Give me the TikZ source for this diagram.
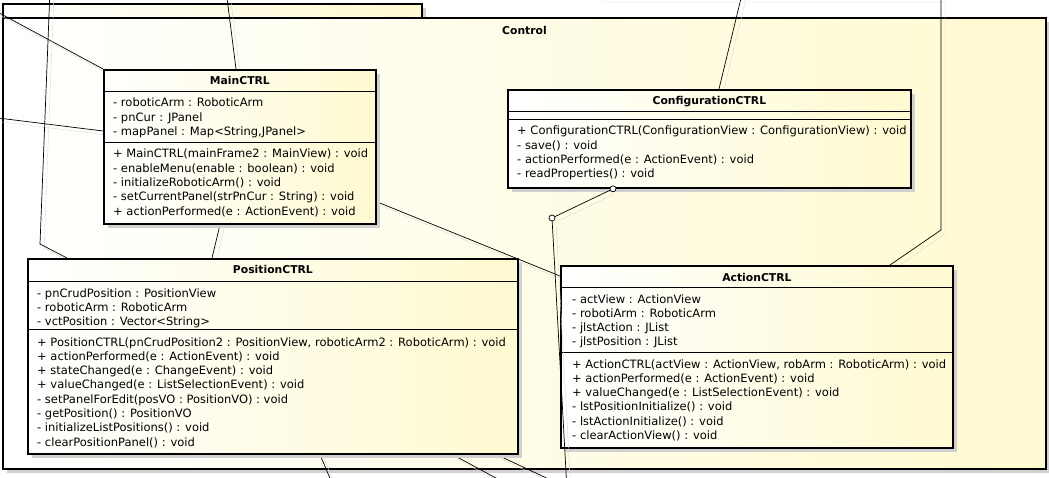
\documentclass[tikz,border=0pt]{standalone}
\usepackage{fontspec}
\setmainfont{DejaVu Sans}
\usetikzlibrary{shadows}

\newcommand{\umlfont}{\fontsize{11.5}{14.3}\selectfont}
\newcommand{\umltitle}{\fontsize{10.8}{14.3}\selectfont\bfseries}
\definecolor{umlyellow}{RGB}{255,250,208}

\pgfdeclarelayer{back}
\pgfdeclarelayer{wires}
\pgfsetlayers{back,wires,main}

\tikzset{
  pkgbox/.style={draw, line width=2pt, left color=white, right color=umlyellow, anchor=north west, inner sep=0pt,
    drop shadow={shadow xshift=4pt, shadow yshift=-4pt, fill=black!18, opacity=1}},
  classbox/.style={pkgbox, line width=1.8pt},
  classname/.style={font=\umltitle, inner sep=0pt, anchor=base},
  % base of a multi-line node = baseline of its last line
  members/.style={align=left, inner sep=0pt, anchor=base west},
  divider/.style={line width=0.9pt},
  assoc/.style={line width=0.7pt, preaction={draw=black!15, transform canvas={xshift=4pt,yshift=-4pt}}},
  joint/.style={circle, draw, fill=white, inner sep=0pt, minimum size=6pt, line width=0.7pt},
}

\begin{document}
\begin{tikzpicture}[x=1pt,y=-1pt,font=\umlfont]
\useasboundingbox (0,0) rectangle (1049,478);

% package Control
\begin{pgfonlayer}{back}
\node[pkgbox, minimum width=419pt, minimum height=14pt] (controlTab) at (2,3) {};
\node[pkgbox, minimum width=1043pt, minimum height=451pt] (control) at (2,17) {};
\node[classname] (controlT) at ([yshift=-18pt]control.north) {Control};
\end{pgfonlayer}

% MainCTRL
\node[classbox, minimum width=272pt, minimum height=154pt] (main) at (103,69) {};
\node[classname] (mainT) at ([yshift=-16pt]main.north) {MainCTRL};
\draw[divider] ([yshift=-22pt]main.north west) -- ([yshift=-22pt]main.north east);
\draw[divider] ([yshift=-73pt]main.north west) -- ([yshift=-73pt]main.north east);
\node[members] (mainA) at ([xshift=10pt,yshift=-66.6pt]main.north west)
  {- roboticArm : RoboticArm\\- pnCur : JPanel\\- mapPanel : Map<String,JPanel>};
\node[members] (mainM) at ([xshift=10pt,yshift=-146.2pt]main.north west)
  {+ MainCTRL(mainFrame2 : MainView) : void\\- enableMenu(enable : boolean) : void\\- initializeRoboticArm() : void\\- setCurrentPanel(strPnCur : String) : void\\+ actionPerformed(e : ActionEvent) : void};

% ConfigurationCTRL
\node[classbox, minimum width=403pt, minimum height=98pt] (cfg) at (507,89) {};
\node[classname] (cfgT) at ([yshift=-16pt]cfg.north) {ConfigurationCTRL};
\draw[divider] ([yshift=-22pt]cfg.north west) -- ([yshift=-22pt]cfg.north east);
\draw[divider] ([yshift=-30pt]cfg.north west) -- ([yshift=-30pt]cfg.north east);
\node[members] (cfgM) at ([xshift=10pt,yshift=-88.9pt]cfg.north west)
  {+ ConfigurationCTRL(ConfigurationView : ConfigurationView) : void\\- save() : void\\- actionPerformed(e : ActionEvent) : void\\- readProperties() : void};

% PositionCTRL
\node[classbox, minimum width=490pt, minimum height=195pt] (pos) at (27,258) {};
\node[classname] (posT) at ([yshift=-16pt]pos.north) {PositionCTRL};
\draw[divider] ([yshift=-23pt]pos.north west) -- ([yshift=-23pt]pos.north east);
\draw[divider] ([yshift=-71pt]pos.north west) -- ([yshift=-71pt]pos.north east);
\node[members] (posA) at ([xshift=10pt,yshift=-67.6pt]pos.north west)
  {- pnCrudPosition : PositionView\\- roboticArm : RoboticArm\\- vctPosition : Vector<String>};
\node[members] (posM) at ([xshift=10pt,yshift=-188.1pt]pos.north west)
  {+ PositionCTRL(pnCrudPosition2 : PositionView, roboticArm2 : RoboticArm) : void\\+ actionPerformed(e : ActionEvent) : void\\+ stateChanged(e : ChangeEvent) : void\\+ valueChanged(e : ListSelectionEvent) : void\\- setPanelForEdit(posVO : PositionVO) : void\\- getPosition() : PositionVO\\- initializeListPositions() : void\\- clearPositionPanel() : void};

% ActionCTRL
\node[classbox, minimum width=392pt, minimum height=182pt] (act) at (560,265) {};
\node[classname] (actT) at ([yshift=-16pt]act.north) {ActionCTRL};
\draw[divider] ([yshift=-22pt]act.north west) -- ([yshift=-22pt]act.north east);
\draw[divider] ([yshift=-87pt]act.north west) -- ([yshift=-87pt]act.north east);
\node[members] (actA) at ([xshift=12pt,yshift=-80.9pt]act.north west)
  {- actView : ActionView\\- robotiArm : RoboticArm\\- jlstAction : JList\\- jlstPosition : JList};
\node[members] (actM) at ([xshift=12pt,yshift=-174.5pt]act.north west)
  {+ ActionCTRL(actView : ActionView, robArm : RoboticArm) : void\\+ actionPerformed(e : ActionEvent) : void\\+ valueChanged(e : ListSelectionEvent) : void\\- lstPositionInitialize() : void\\- lstActionInitialize() : void\\- clearActionView() : void};

% free ends and bends
\coordinate (inA) at (-10,8);
\coordinate (inB) at (-10,117);
\coordinate (inC) at (226,-10);
\coordinate (inD) at (50,-10);
\coordinate (bendD) at (40,244);
\coordinate (inE) at (743,-10);
\coordinate (inF) at (601,-20);
\coordinate (bendF1) at (601,-2);
\coordinate (bendF2) at (941,-2);
\coordinate (bendF3) at (941,230);
\coordinate (outA) at (567,490);
\coordinate (outB) at (335,490);
\coordinate (outC) at (518,490);
\coordinate (outD) at (572,490);

\begin{pgfonlayer}{wires}
\draw[assoc] (inA) -- (main.north west);
\draw[assoc] (inB) -- ([yshift=-62pt]main.north west);
\draw[assoc] (inC) -- ([xshift=133pt]main.north west);
\draw[assoc] (inD) -- (bendD) -- ([xshift=40pt]pos.north west);
\draw[assoc] ([xshift=117pt]main.south west) -- ([xshift=185pt]pos.north west);
\draw[assoc] ([yshift=23pt]main.south east) -- ([yshift=-11pt]act.north west);
\draw[assoc] (inE) -- ([xshift=212pt]cfg.north west);
\draw[assoc] (inF) -- (bendF1) -- (bendF2) -- (bendF3) -- ([xshift=330pt]act.north west);
\draw[assoc] ([xshift=293pt]pos.south west) -- (outB);
\draw[assoc] ([xshift=426pt]pos.south west) -- (outC);
\draw[assoc] ([xshift=470pt]pos.south west) -- (outD);
\end{pgfonlayer}

% link over ActionCTRL
\node[joint] (cfgJ1) at ([xshift=106pt]cfg.south west) {};
\node[joint] (cfgJ2) at (552,218) {};
\draw[assoc] (cfgJ1) -- (cfgJ2) -- (outA);
\end{tikzpicture}
\end{document}
